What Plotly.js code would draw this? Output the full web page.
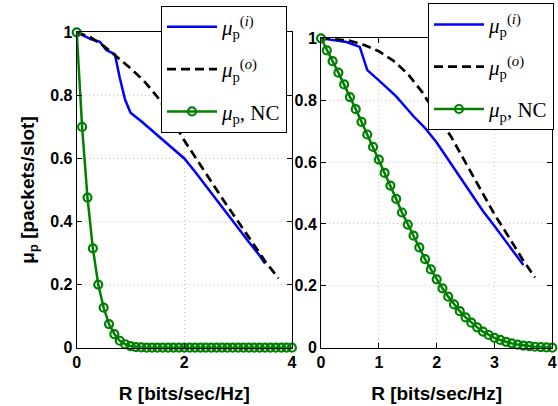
<!DOCTYPE html>
<html>
<head>
<meta charset="utf-8">
<script src="https://cdn.plot.ly/plotly-3.0.1.min.js"></script>
<style>html,body{margin:0;padding:0;background:#fff;}</style>
</head>
<body>
<div id="chart" style="width:558px;height:406px;"></div>
<script>
// ---- Left panel data ----
const xInLeft = [0, 0.12, 0.27, 0.43, 0.55, 0.71, 0.8, 0.9, 1.0, 1.2, 1.4, 1.6, 1.8, 2.0, 2.2, 2.4, 2.6, 2.8, 3.0, 3.2, 3.4, 3.5];
const yInLeft = [1, 0.99, 0.978, 0.97, 0.944, 0.93, 0.856, 0.786, 0.745, 0.718, 0.688, 0.659, 0.63, 0.6, 0.558, 0.513, 0.467, 0.424, 0.38, 0.335, 0.292, 0.267];
const xOutLeft = [0, 0.25, 0.5, 0.75, 1.0, 1.25, 1.5, 1.75, 2.0, 2.25, 2.5, 2.75, 3.0, 3.25, 3.5, 3.75];
const yOutLeft = [1, 0.985, 0.957, 0.921, 0.886, 0.846, 0.795, 0.73, 0.657, 0.592, 0.525, 0.462, 0.4, 0.338, 0.275, 0.22];
const xNC = [0, 0.1, 0.2, 0.3, 0.4, 0.5, 0.6, 0.7, 0.8, 0.9, 1.0, 1.1, 1.2, 1.3, 1.4, 1.5, 1.6, 1.7, 1.8, 1.9, 2.0,
             2.1, 2.2, 2.3, 2.4, 2.5, 2.6, 2.7, 2.8, 2.9, 3.0, 3.1, 3.2, 3.3, 3.4, 3.5, 3.6, 3.7, 3.8, 3.9, 4.0];
const yNCLeft = [1, 0.70, 0.476, 0.315, 0.20, 0.127, 0.075, 0.043, 0.022, 0.011, 0.005, 0.002, 0.001, 0, 0, 0, 0, 0, 0, 0, 0,
                 0, 0, 0, 0, 0, 0, 0, 0, 0, 0, 0, 0, 0, 0, 0, 0, 0, 0, 0, 0];
// ---- Right panel data ----
const xInRight = [0, 0.2, 0.44, 0.67, 0.8, 1.0, 1.3, 1.6, 1.8, 2.0, 2.2, 2.4, 2.6, 2.8, 3.0, 3.2, 3.4, 3.5];
const yInRight = [1, 0.995, 0.988, 0.972, 0.897, 0.864, 0.812, 0.748, 0.71, 0.663, 0.607, 0.552, 0.497, 0.442, 0.393, 0.342, 0.289, 0.267];
const xOutRight = [0, 0.25, 0.5, 0.75, 1.0, 1.25, 1.5, 1.75, 2.0, 2.25, 2.5, 2.75, 3.0, 3.25, 3.5, 3.7];
const yOutRight = [1, 0.998, 0.992, 0.978, 0.958, 0.928, 0.885, 0.826, 0.753, 0.682, 0.598, 0.514, 0.431, 0.357, 0.281, 0.227];
const yNCRight = [1, 0.961, 0.926, 0.889, 0.851, 0.81, 0.771, 0.73, 0.689, 0.649, 0.608, 0.565, 0.524, 0.481, 0.437, 0.398, 0.362, 0.324, 0.286, 0.253, 0.221,
                  0.192, 0.165, 0.14, 0.118, 0.098, 0.081, 0.066, 0.052, 0.041, 0.032, 0.025, 0.019, 0.014, 0.010, 0.007, 0.005, 0.003, 0.002, 0.001, 0];
// ---- Labels ----
const nameIn = '<i>μ</i><sub>p</sub><sup>(<i>i</i>)</sup>';
const nameOut = '<i>μ</i><sub>p</sub><sup>(<i>o</i>)</sup>';
const nameNC = '<i>μ</i><sub>p</sub>, NC';
const xTitle = 'R [bits/sec/Hz]';
const yTitle = 'μ<sub>p</sub> [packets/slot]';

const blue = '#0000ff', green = '#008000';

function mk(xa, ya, leg) {
  return [
    {x: xa === 'x' ? xInLeft : xInRight, y: xa === 'x' ? yInLeft : yInRight, xaxis: xa, yaxis: ya, legend: leg,
     name: nameIn, legendgroup: leg + 'a', mode: 'lines', line: {color: blue, width: 2.5}, cliponaxis: false},
    {x: xa === 'x' ? xOutLeft : xOutRight, y: xa === 'x' ? yOutLeft : yOutRight, xaxis: xa, yaxis: ya, legend: leg,
     name: nameOut, legendgroup: leg + 'b', mode: 'lines', line: {color: '#000', width: 2.7, dash: '9px,5px'}, cliponaxis: false},
    {x: xNC, y: xa === 'x' ? yNCLeft : yNCRight, xaxis: xa, yaxis: ya, legend: leg,
     name: nameNC, legendgroup: leg + 'c', mode: 'lines+markers', line: {color: green, width: 2.5},
     marker: {symbol: 'circle-open', size: 8, color: green, line: {width: 2.2, color: green}}, cliponaxis: false}
  ];
}
const data = mk('x', 'y', 'legend').concat(mk('x2', 'y2', 'legend2'));

const tickFont = {family: 'Liberation Sans, Arial, sans-serif', size: 16, color: '#000', weight: 'bold'};
const titleFont = {family: 'Liberation Sans, Arial, sans-serif', size: 19, color: '#000', weight: 'bold'};
const axBase = {
  showline: true, linecolor: '#000', linewidth: 1, mirror: 'ticks',
  ticks: 'inside', ticklen: 5, tickcolor: '#000', tickwidth: 1,
  showgrid: true, gridcolor: '#c4c4c4', griddash: '1px,3px', gridwidth: 1,
  zeroline: false, tickfont: tickFont, fixedrange: true
};
const legBase = {
  bgcolor: '#fff', bordercolor: '#000', borderwidth: 1,
  font: {family: 'Liberation Serif, DejaVu Serif, serif', size: 21, color: '#000'},
  xanchor: 'left', yanchor: 'top', traceorder: 'grouped', tracegroupgap: 12, itemwidth: 50
};

const layout = {
  width: 558, height: 406, autosize: false,
  margin: {l: 0, r: 0, t: 0, b: 0},
  paper_bgcolor: '#fff', plot_bgcolor: '#fff',
  showlegend: true,
  xaxis: Object.assign({}, axBase, {domain: [0.1375, 0.5231], range: [0, 4], tickvals: [0, 2, 4],
    title: {text: xTitle, font: titleFont, standoff: 16}, anchor: 'y'}),
  yaxis: Object.assign({}, axBase, {domain: [0.1436, 0.9204], range: [0, 1], tickvals: [0, 0.2, 0.4, 0.6, 0.8, 1],
    title: {text: yTitle, font: titleFont, standoff: 10}, anchor: 'x'}),
  xaxis2: Object.assign({}, axBase, {domain: [0.5753, 0.9898], range: [0, 4], tickvals: [0, 1, 2, 3, 4],
    title: {text: xTitle, font: titleFont, standoff: 16}, anchor: 'y2'}),
  yaxis2: Object.assign({}, axBase, {domain: [0.1436, 0.9057], range: [0, 1], tickvals: [0, 0.2, 0.4, 0.6, 0.8, 1], anchor: 'x2'}),
  legend: Object.assign({}, legBase, {x: 0.2885, y: 0.986}),
  legend2: Object.assign({}, legBase, {x: 0.767, y: 0.992})
};

Plotly.newPlot('chart', data, layout, {displayModeBar: false, staticPlot: true});
</script>
</body>
</html>
